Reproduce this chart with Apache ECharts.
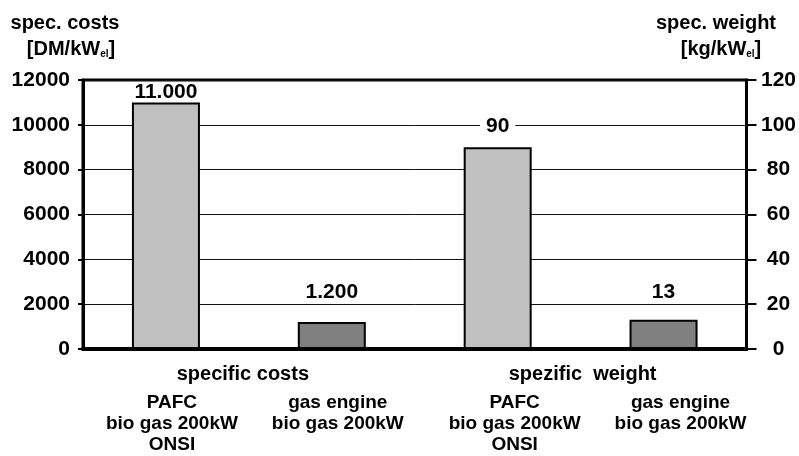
<!DOCTYPE html>
<html>
<head>
<meta charset="utf-8">
<script src="https://cdn.jsdelivr.net/npm/echarts@6/dist/echarts.min.js"></script>
<style>
  html, body { margin: 0; padding: 0; background: #fff; }
  #chart { width: 799px; height: 456px; }
</style>
</head>
<body>
<div id="chart"></div>
<script>
// Categories along the bottom axis and the two groups they belong to
const categories = [
  'PAFC\nbio gas 200kW\nONSI',
  'gas engine\nbio gas 200kW',
  'PAFC\nbio gas 200kW\nONSI',
  'gas engine\nbio gas 200kW'
];
const groups = ['specific costs', 'spezific  weight'];

// Specific costs [DM/kW_el] (left axis) and specific weight [kg/kW_el] (right axis)
const costValues = [11000, 1200, null, null];
const weightValues = [null, null, 90, 13];

// Axis ranges and steps
const costAxis = { min: 0, max: 12000, interval: 2000 };
const weightAxis = { min: 0, max: 120, interval: 20 };

const FONT = "'Liberation Sans', Arial, Helvetica, sans-serif";
const fills = ['#c0c0c0', '#808080', '#c0c0c0', '#808080'];
const labelGap = [0, 19, 11, 17];

function thousands(v) {
  return String(v).replace(/\B(?=(\d{3})+(?!\d))/g, '.');
}

function toItems(values) {
  return values.map((v, i) => v == null ? '-' : {
    value: v,
    itemStyle: { color: fills[i] },
    label: i === 0
      ? { distance: labelGap[i], backgroundColor: 'transparent', padding: 0 }
      : { distance: labelGap[i] }
  });
}

const barLabel = {
  show: true,
  position: 'top',
  formatter: p => thousands(p.value),
  fontFamily: FONT,
  fontWeight: 'bold',
  fontSize: 21,
  color: '#000',
  backgroundColor: '#fff',
  padding: [0, 6]
};

const catRich = {
  g0: { fontFamily: FONT, fontWeight: 'bold', fontSize: 19, lineHeight: 21, color: '#000', padding: [0, 0, 0, 12] },
  g1: { fontFamily: FONT, fontWeight: 'bold', fontSize: 19, lineHeight: 21, color: '#000', padding: [0, 0, 0, 34] }
};
const grpRich = {
  h0: { fontFamily: FONT, fontWeight: 'bold', fontSize: 20, lineHeight: 21, color: '#000', padding: [0, 12, 0, 0] },
  h1: { fontFamily: FONT, fontWeight: 'bold', fontSize: 20, lineHeight: 21, color: '#000', padding: [0, 0, 0, 4] }
};

const titleFont = { fontFamily: FONT, fontWeight: 'bold', fontSize: 20, fill: '#000' };
const unitRich = {
  b: { fontFamily: FONT, fontWeight: 'bold', fontSize: 20, color: '#000' },
  s: { fontFamily: FONT, fontWeight: 'bold', fontSize: 10, color: '#000', verticalAlign: 'bottom' }
};

const chart = echarts.init(document.getElementById('chart'), null, { renderer: 'canvas' });

chart.setOption({
  animation: false,
  backgroundColor: '#fff',
  textStyle: { fontFamily: FONT },
  grid: {
    left: 83, right: 52, top: 80, bottom: 107,
    show: true, borderColor: '#000', borderWidth: 3, backgroundColor: 'transparent'
  },
  graphic: [
    { type: 'text', x: 65, y: 23, style: Object.assign({ text: 'spec. costs', align: 'center', verticalAlign: 'middle' }, titleFont) },
    { type: 'text', x: 71, y: 49, style: { text: '{b|[DM/kW}{s|el}{b|]}', rich: unitRich, align: 'center', verticalAlign: 'middle' } },
    { type: 'text', x: 716, y: 23, style: Object.assign({ text: 'spec. weight', align: 'center', verticalAlign: 'middle' }, titleFont) },
    { type: 'text', x: 721, y: 49, style: { text: '{b|[kg/kW}{s|el}{b|]}', rich: unitRich, align: 'center', verticalAlign: 'middle' } }
  ],
  xAxis: [
    {
      type: 'category',
      data: categories,
      position: 'bottom',
      axisLine: { show: true, lineStyle: { color: '#000', width: 4 } },
      axisTick: { show: false },
      splitLine: { show: false },
      axisLabel: {
        margin: 43,
        interval: 0,
        formatter: (val, idx) => val.split('\n').map(l => '{g' + (idx < 2 ? 0 : 1) + '|' + l + '}').join('\n'),
        rich: catRich
      }
    },
    {
      type: 'category',
      data: groups,
      position: 'bottom',
      axisLine: { show: false },
      axisTick: { show: false },
      splitLine: { show: false },
      axisLabel: {
        margin: 15,
        interval: 0,
        formatter: (val, idx) => '{h' + idx + '|' + val + '}',
        rich: grpRich
      }
    }
  ],
  yAxis: [
    {
      type: 'value',
      position: 'left',
      min: costAxis.min, max: costAxis.max, interval: costAxis.interval,
      axisLine: { show: true, lineStyle: { color: '#000', width: 3 } },
      axisTick: { show: true, inside: false, length: 5, lineStyle: { color: '#000', width: 2 } },
      splitLine: { show: true, lineStyle: { color: '#111', width: 1 } },
      axisLabel: { margin: 13, formatter: v => String(v), fontFamily: FONT, fontWeight: 'bold', fontSize: 21, color: '#000' }
    },
    {
      type: 'value',
      position: 'right',
      min: weightAxis.min, max: weightAxis.max, interval: weightAxis.interval,
      axisLine: { show: true, lineStyle: { color: '#000', width: 3 } },
      axisTick: { show: true, inside: false, length: 10, lineStyle: { color: '#000', width: 2 } },
      splitLine: { show: false },
      axisLabel: { margin: 32, align: 'center', formatter: v => String(v), fontFamily: FONT, fontWeight: 'bold', fontSize: 21, color: '#000' }
    }
  ],
  series: [
    {
      name: 'spec. costs',
      type: 'bar',
      xAxisIndex: 0,
      yAxisIndex: 0,
      barWidth: 68,
      barGap: '-100%',
      itemStyle: { borderColor: '#000', borderWidth: 2 },
      label: barLabel,
      data: toItems(costValues),
      z: 3
    },
    {
      name: 'spec. weight',
      type: 'bar',
      xAxisIndex: 0,
      yAxisIndex: 1,
      barWidth: 68,
      barGap: '-100%',
      itemStyle: { borderColor: '#000', borderWidth: 2 },
      label: barLabel,
      data: toItems(weightValues),
      z: 3
    }
  ]
});
</script>
</body>
</html>
